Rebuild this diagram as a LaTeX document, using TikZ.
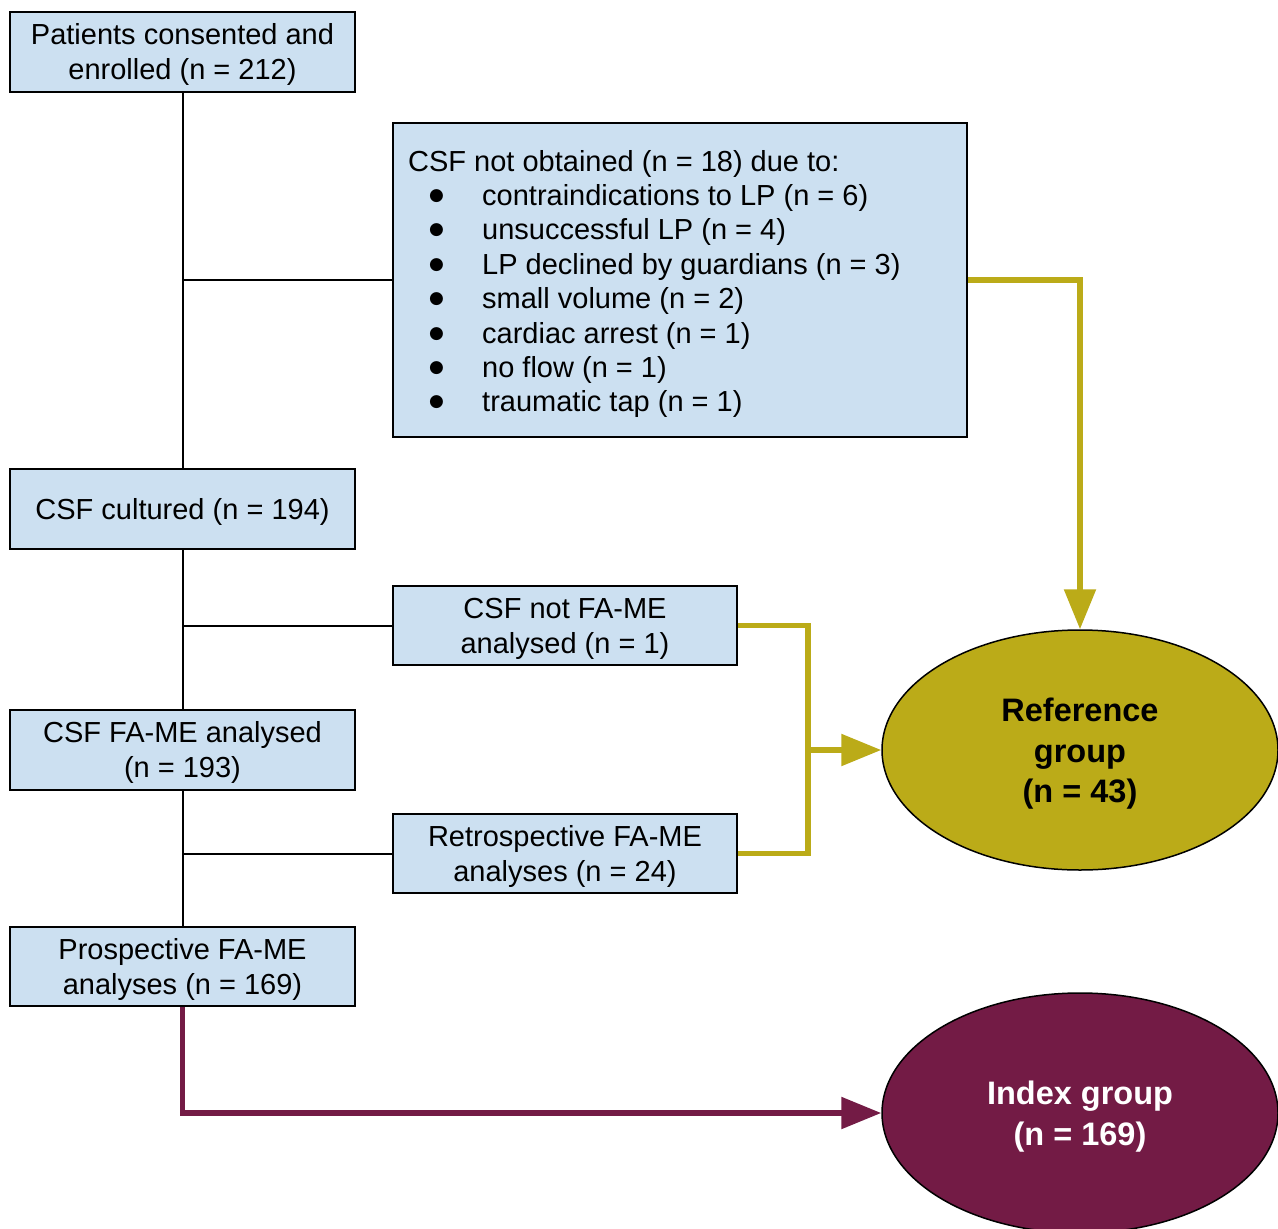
\documentclass[tikz,border=0pt]{standalone}
\usepackage{fontspec}
\setmainfont{Liberation Sans}
\newfontfamily\dvfont{DejaVu Sans}
\usetikzlibrary{arrows.meta,shapes.geometric}
\definecolor{boxblue}{HTML}{CCE0F1}
\definecolor{olive}{HTML}{BBAB18}
\definecolor{maroon}{HTML}{731B45}
\tikzset{
  boxnode/.style={draw=black, line width=1.8pt, fill=boxblue, rectangle, inner sep=0pt, align=center,
    font=\fontsize{29}{35}\selectfont},
  ellnode/.style={ellipse, draw=black, line width=1.5pt, minimum width=396pt, minimum height=240pt,
    inner sep=0pt, align=center, font=\fontsize{32.5}{40.5}\selectfont\bfseries},
  blackline/.style={draw=black, line width=2pt},
  oliveline/.style={draw=olive, line width=5.5pt},
  maroonline/.style={draw=maroon, line width=5.5pt},
  bigtip/.style={-{Triangle[length=40pt,width=31pt]}},
}
\newcommand{\bul}{\makebox[74pt][l]{\hspace{21pt}\raisebox{5pt}{{\dvfont\fontsize{17}{17}\selectfont ●}}}}
\newcommand{\lowr}[2]{\raisebox{-#1}[\height][\depth]{\begin{tabular}{@{}c@{}}#2\end{tabular}}}
\begin{document}
\begin{tikzpicture}[x=1pt,y=-1pt]
\useasboundingbox (0,0) rectangle (1278,1229);
% boxes
\node[boxnode, minimum width=345pt, minimum height=80pt] (enr) at (182.5,52) {\lowr{3pt}{Patients consented and\\enrolled (n = 212)}};
\node[boxnode, minimum width=574pt, minimum height=314pt] (nob) at (680,280) {};
\node[anchor=west, inner sep=0pt, align=left, font=\fontsize{29}{34.4}\selectfont] (nobtxt) at (408,284)
  {CSF not obtained (n = 18) due to:\\
   \bul contraindications to LP (n = 6)\\
   \bul unsuccessful LP (n = 4)\\
   \bul LP declined by guardians (n = 3)\\
   \bul small volume (n = 2)\\
   \bul cardiac arrest (n = 1)\\
   \bul no flow (n = 1)\\
   \bul traumatic tap (n = 1)};
\node[boxnode, minimum width=345pt, minimum height=80pt] (cult) at (182.5,509) {\lowr{3pt}{CSF cultured (n = 194)}};
\node[boxnode, minimum width=344pt, minimum height=79pt] (nfa) at (565,625.5) {\lowr{3pt}{CSF not FA-ME\\analysed (n = 1)}};
\node[boxnode, minimum width=345pt, minimum height=80pt] (anl) at (182.5,750) {\lowr{3pt}{CSF FA-ME analysed\\(n = 193)}};
\node[boxnode, minimum width=344pt, minimum height=79pt] (ret) at (565,853.5) {\lowr{3pt}{Retrospective FA-ME\\analyses (n = 24)}};
\node[boxnode, minimum width=345pt, minimum height=79pt] (pros) at (182.5,966.5) {\lowr{3pt}{Prospective FA-ME\\analyses (n = 169)}};
% ellipses
\node[ellnode, fill=olive, text=black] (ref) at (1080,750) {\lowr{4pt}{Reference\\group\\(n = 43)}};
\node[ellnode, fill=maroon, text=white] (ind) at (1080,1113) {\lowr{4pt}{Index group\\(n = 169)}};
% black connectors
\draw[blackline] (enr.south) -- (cult.north);
\draw[blackline] (cult.south) -- (anl.north);
\draw[blackline] (anl.south) -- (pros.north);
\draw[blackline] (nob.west) -- (nob.west -| enr.south);
\draw[blackline] (nfa.west) -- (nfa.west -| enr.south);
\draw[blackline] (ret.west) -- (ret.west -| enr.south);
% olive connectors
\draw[oliveline, bigtip] (nob.east) -| (ref.north);
\coordinate (jn) at (808,750);
\draw[oliveline, line join=miter] (nfa.east) -| (jn) |- (ret.east);
\draw[oliveline, bigtip] (jn) -- (ref.west);
% maroon connector
\draw[maroonline, bigtip, line join=miter] (pros.south) |- (ind.west);
\end{tikzpicture}
\end{document}
